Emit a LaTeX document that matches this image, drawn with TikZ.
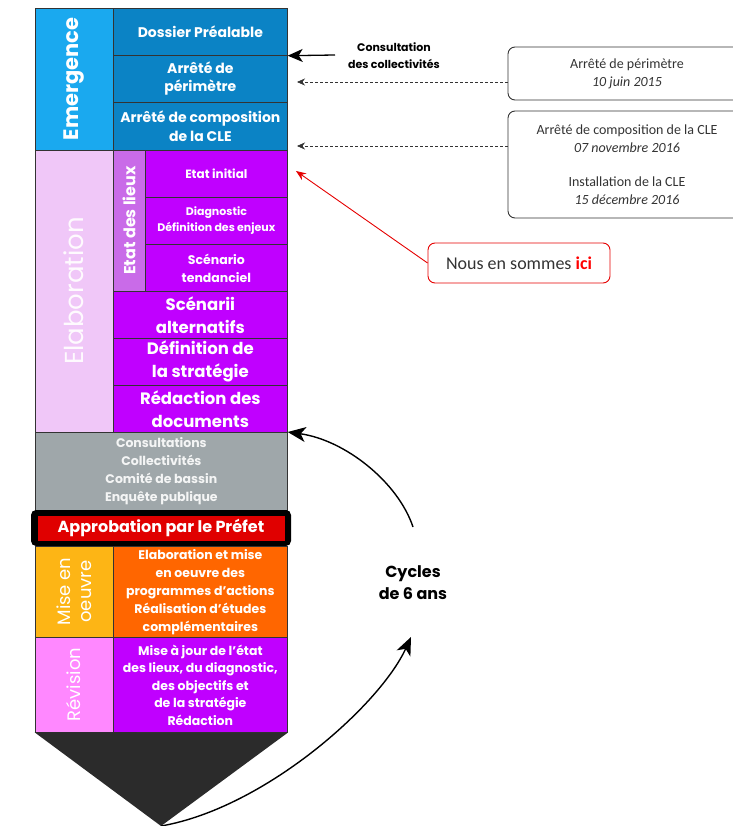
\documentclass[tikz,border=0pt]{standalone}
\usepackage{fontspec}
\setmainfont{Poppins}
\newfontfamily\calibri{Carlito}
\usetikzlibrary{arrows.meta}

\definecolor{emergeLight}{HTML}{1AA9EF}
\definecolor{emergeDark}{HTML}{0B83C5}
\definecolor{elabLight}{HTML}{F0C7F8}
\definecolor{lieuxCol}{HTML}{C96BE8}
\definecolor{purpleBox}{HTML}{C000FF}
\definecolor{grayBox}{HTML}{9FA7AA}
\definecolor{miseLight}{HTML}{FDB515}
\definecolor{miseDark}{HTML}{FF6600}
\definecolor{revLight}{HTML}{FF88FF}
\definecolor{redBar}{HTML}{E00000}
\newcommand{\fsz}[2]{\fontsize{#1}{#2}\selectfont}

\begin{document}
\begin{tikzpicture}[x=1pt,y=-1pt,
    box/.style={draw=black!80, line width=0.7pt, anchor=north west, inner sep=0pt,
      align=center, text=white, font=\bfseries},
    side/.style={draw=black!80, line width=0.7pt, inner sep=0pt, align=center,
      rotate=90, text=white},
    note/.style={draw=black!80, line width=0.9pt, rounded corners=7pt, align=center,
      font=\calibri\fsz{14}{18}, text=black!80},
    dash arrow/.style={densely dashed, black!80, line width=0.6pt,
      -{Stealth[length=8pt,width=7pt]}},
    big arrow/.style={line width=1.4pt, -{Stealth[length=18pt,width=15pt,inset=5pt]}}]
  \useasboundingbox (0,0) rectangle (732,826);

  % Emergence
  \node (emerge) [side, fill=emergeLight, minimum width=142, minimum height=78,
    font=\bfseries\fsz{21}{22}] at (74,79) {Emergence};
  \node (dossier) [box, fill=emergeDark, minimum width=174, minimum height=47,
    font=\bfseries\fsz{14}{18}] at (113,8) {Dossier Préalable};
  \node (perimetre) [box, fill=emergeDark, minimum width=174, minimum height=47,
    font=\bfseries\fsz{14}{18}] at (113,55) {Arrêté de\\périmètre};
  \node (compo) [box, fill=emergeDark, minimum width=174, minimum height=48,
    font=\bfseries\fsz{14}{19}] at (113,102) {Arrêté de composition\\de la CLE};

  % Elaboration
  \node (elab) [side, fill=elabLight, minimum width=282, minimum height=78,
    text=white!92!elabLight, font=\fsz{26}{28}] at (74,291) {Elaboration};
  \node (lieux) [side, fill=lieuxCol, minimum width=141, minimum height=32,
    font=\bfseries\fsz{16}{18}] at (129,220.5) {Etat des lieux};
  \node (initial) [box, fill=purpleBox, minimum width=142, minimum height=47,
    font=\bfseries\fsz{12}{16}] at (145,150) {Etat initial};
  \node (diag) [box, fill=purpleBox, minimum width=142, minimum height=47,
    font=\bfseries\fsz{11}{16}] at (145,197) {Diagnostic\\Définition des enjeux};
  \node (tendanciel) [box, fill=purpleBox, minimum width=142, minimum height=47,
    font=\bfseries\fsz{12.5}{18}] at (145,244) {Scénario\\tendanciel};
  \node (alternatifs) [box, fill=purpleBox, minimum width=174, minimum height=47,
    font=\bfseries\fsz{16.5}{23}] at (113,291) {Scénarii\\alternatifs};
  \node (strategie) [box, fill=purpleBox, minimum width=174, minimum height=47,
    font=\bfseries\fsz{16.5}{23}] at (113,338) {Définition de\\la stratégie};
  \node (redaction) [box, fill=purpleBox, minimum width=174, minimum height=47,
    font=\bfseries\fsz{16.5}{23}] at (113,385) {Rédaction des\\documents};

  % Consultations
  \node (consult) [box, fill=grayBox, minimum width=252, minimum height=78,
    text=white!88!grayBox, font=\bfseries\fsz{12.5}{18}] at (35,432)
    {Consultations\\Collectivités\\Comité de bassin\\Enquête publique};
  \node (approb) [fill=black, rounded corners=5pt, minimum width=260, minimum height=36,
    inner sep=0pt] at (161,528) {};
  \node (prefet) [fill=redBar, minimum width=247, minimum height=25, inner sep=0pt,
    text=white, font=\bfseries\fsz{16}{18}] at (approb.center) {Approbation par le Préfet};

  % Mise en oeuvre et revision
  \node (mise) [side, fill=miseLight, minimum width=91, minimum height=78,
    font=\fsz{18}{21}] at (74,591.5) {Mise en\\oeuvre};
  \node (actions) [box, fill=miseDark, minimum width=174, minimum height=91,
    font=\bfseries\fsz{12.5}{18}] at (113,546)
    {Elaboration et mise\\en oeuvre des\\programmes d'actions\\Réalisation d'études\\complémentaires};
  \node (revision) [side, fill=revLight, minimum width=95, minimum height=78,
    font=\fsz{18}{21}] at (74,684.5) {Révision};
  \node (miseajour) [box, fill=purpleBox, minimum width=174, minimum height=95,
    font=\bfseries\fsz{12.5}{17.5}] at (113,637)
    {Mise à jour de l'état\\des lieux, du diagnostic,\\des objectifs et\\de la stratégie\\Rédaction};

  % Pointe du crayon
  \coordinate (tip) at (161,826);
  \fill[black!83] (revision.north west) -- (miseajour.south east) -- (tip) -- cycle;

  % Notes a droite
  \node (consnote) [font=\bfseries\fsz{11}{17}, align=center] at (394,56)
    {Consultation\\des collectivités};
  \coordinate (consStart) at (335,55);
  \draw[line width=1.3pt, -{Stealth[length=15pt,width=13pt,inset=4pt]}] (consStart) -- (dossier.south east);

  \node (perimnote) [note, minimum width=238, minimum height=53] at (627,73.5)
    {Arrêté de périmètre\\\textit{10 juin 2015}};
  \node (clenote) [note, minimum width=238, minimum height=107] at (627,164.5)
    {Arrêté de composition de la CLE\\\textit{07 novembre 2016}\\[16pt]Installation de la CLE\\\textit{15 décembre 2016}};
  \coordinate (perimEnd) at (297,82);
  \coordinate (cleEnd) at (297,146);
  \draw[dash arrow] (perimnote.west |- perimEnd) -- (perimEnd);
  \draw[dash arrow] (clenote.west |- cleEnd) -- (cleEnd);

  % Nous en sommes ici
  \node (ici) [draw=red!90!black, line width=0.9pt, rounded corners=7pt, minimum width=182,
    minimum height=40, font=\calibri\fsz{18}{20}, text=black!80] at (519,263)
    {Nous en sommes \textcolor{red}{\bfseries ici}};
  \coordinate (iciEnd) at (296,171);
  \draw[red!90!black, line width=0.9pt, -{Stealth[length=10pt,width=8pt]}]
    (ici.west) -- (iciEnd);

  % Cycles
  \node (cycles) [font=\bfseries\fsz{16}{22}, align=center] at (413,583) {Cycles\\de 6 ans};
  \coordinate (arcTop) at (413,527);
  \coordinate (arcBot) at (411,637);
  \draw[big arrow] (arcTop) .. controls (398,482) and (345,440) .. (consult.north east);
  \draw[big arrow] (tip) .. controls (265,808) and (380,705) .. (arcBot);
\end{tikzpicture}
\end{document}
